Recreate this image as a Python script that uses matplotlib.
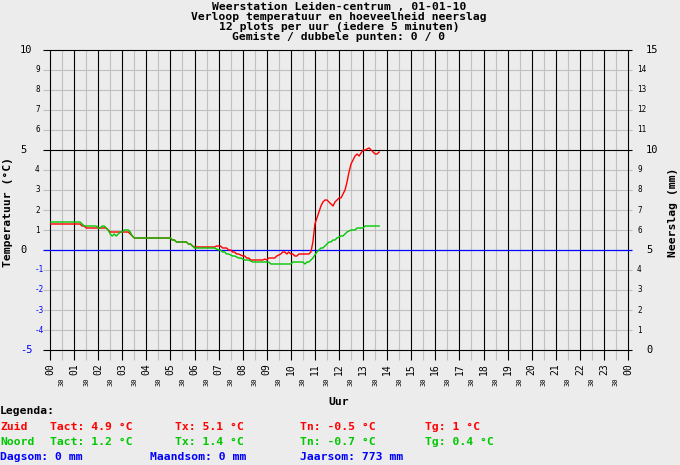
import numpy as np
import matplotlib
matplotlib.use("Agg")
import matplotlib.pyplot as plt
from matplotlib import transforms

# Temperatuur per 5 minuten (00:00 - 13:40)
zuid = [1.3, 1.3, 1.3, 1.3, 1.3, 1.3, 1.3, 1.3, 1.3, 1.3, 1.3, 1.3,
        1.3, 1.3, 1.3, 1.3, 1.2, 1.2, 1.1, 1.1, 1.1, 1.1, 1.1, 1.1,
        1.1, 1.1, 1.1, 1.1, 1.1, 1.0, 0.9, 0.9, 0.9, 0.9, 0.9, 0.9,
        0.9, 0.9, 0.9, 0.9, 0.8, 0.7, 0.6, 0.6, 0.6, 0.6, 0.6, 0.6,
        0.6, 0.6, 0.6, 0.6, 0.6, 0.6, 0.6, 0.6, 0.6, 0.6, 0.6, 0.6,
        0.6, 0.5, 0.5, 0.4, 0.4, 0.4, 0.4, 0.4, 0.4, 0.3, 0.3, 0.2,
        0.15, 0.15, 0.15, 0.15, 0.15, 0.15, 0.15, 0.15, 0.15, 0.15, 0.15, 0.2,
        0.2, 0.2, 0.1, 0.1, 0.1, 0.0, 0.0, -0.1, -0.1, -0.2, -0.2, -0.25,
        -0.3, -0.3, -0.4, -0.4, -0.5, -0.5, -0.5, -0.5, -0.5, -0.5, -0.5, -0.45,
        -0.5, -0.4, -0.4, -0.4, -0.4, -0.3, -0.25, -0.2, -0.1, -0.1, -0.2, -0.1,
        -0.2, -0.2, -0.3, -0.3, -0.2, -0.2, -0.2, -0.2, -0.2, -0.2, -0.1, 0.4,
        1.3, 1.6, 1.9, 2.2, 2.4, 2.5, 2.5, 2.4, 2.3, 2.2, 2.4, 2.5,
        2.6, 2.6, 2.8, 3.0, 3.4, 3.9, 4.3, 4.5, 4.7, 4.8, 4.7, 4.85,
        5.0, 5.0, 5.05, 5.1, 5.0, 4.9, 4.8, 4.8, 4.9]

noord = [1.4, 1.4, 1.4, 1.4, 1.4, 1.4, 1.4, 1.4, 1.4, 1.4, 1.4, 1.4,
         1.4, 1.4, 1.4, 1.4, 1.3, 1.2, 1.2, 1.2, 1.2, 1.2, 1.2, 1.2,
         1.1, 1.1, 1.2, 1.2, 1.1, 1.0, 0.8, 0.7, 0.8, 0.7, 0.8, 0.9,
         0.9, 1.0, 1.0, 1.0, 0.9, 0.7, 0.6, 0.6, 0.6, 0.6, 0.6, 0.6,
         0.6, 0.6, 0.6, 0.6, 0.6, 0.6, 0.6, 0.6, 0.6, 0.6, 0.6, 0.6,
         0.6, 0.5, 0.5, 0.4, 0.4, 0.4, 0.4, 0.4, 0.4, 0.3, 0.3, 0.2,
         0.1, 0.1, 0.1, 0.1, 0.1, 0.1, 0.1, 0.1, 0.1, 0.1, 0.1, 0.05,
         0.0, 0.0, -0.1, -0.1, -0.2, -0.2, -0.25, -0.3, -0.3, -0.35, -0.4, -0.4,
         -0.45, -0.5, -0.5, -0.5, -0.55, -0.6, -0.6, -0.6, -0.6, -0.6, -0.6, -0.6,
         -0.6, -0.6, -0.7, -0.7, -0.7, -0.7, -0.7, -0.7, -0.7, -0.7, -0.7, -0.7,
         -0.7, -0.6, -0.6, -0.6, -0.6, -0.6, -0.6, -0.7, -0.6, -0.6, -0.5, -0.4,
         -0.25, -0.1, 0.0, 0.1, 0.1, 0.2, 0.3, 0.4, 0.4, 0.5, 0.5, 0.6,
         0.65, 0.7, 0.7, 0.8, 0.9, 0.95, 1.0, 1.0, 1.0, 1.1, 1.1, 1.1,
         1.1, 1.2, 1.2, 1.2, 1.2, 1.2, 1.2, 1.2, 1.2]

# meetpunten iedere 5 minuten, in uren
tijd = np.arange(len(zuid)) * 5 / 60

temp_ticks = list(range(-5, 11))
neerslag_ticks = list(range(0, 16))
uur_labels = ["%02d" % (h % 24) for h in range(25)]

titel = ["Weerstation Leiden-centrum , 01-01-10",
         "Verloop temperatuur en hoeveelheid neerslag",
         "12 plots per uur (iedere 5 minuten)",
         "Gemiste / dubbele punten: 0 / 0"]

zuid_legenda = ["Zuid", "Tact: 4.9 °C", "Tx: 5.1 °C", "Tn: -0.5 °C", "Tg: 1 °C"]
noord_legenda = ["Noord", "Tact: 1.2 °C", "Tx: 1.4 °C", "Tn: -0.7 °C", "Tg: 0.4 °C"]
neerslag_legenda = ["Dagsom: 0 mm", "Maandsom: 0 mm", "Jaarsom: 773 mm"]

RED = "#ff0000"
GREEN = "#00c800"
BLUE = "#0000ff"
GRIJS = "#c0c0c0"
ACHTERGROND = "#ececec"
MONO = "DejaVu Sans Mono"

W, H = 680, 465
fig = plt.figure(figsize=(W / 100, H / 100), dpi=100, facecolor=ACHTERGROND)
ax = fig.add_axes([50 / W, 1 - 350 / H, 578 / W, 300 / H])
ax.set_facecolor(ACHTERGROND)
ax.set_xlim(0, 24)
ax.set_ylim(-5, 10)
for s in ax.spines.values():
    s.set_visible(False)
ax.set_xticks([])
ax.set_yticks([])

px = lambda x: x / W
py = lambda y: 1 - y / H
xlinks = (43 - 50) / 578 * 24
xrechts = (632 - 50) / 578 * 24

# horizontale rasterlijnen
for t in temp_ticks:
    if t == 0:
        continue
    kleur = "black" if t % 5 == 0 else GRIJS
    ax.hlines(t, xlinks, xrechts, color=kleur, lw=0.8, clip_on=False, zorder=2 if t % 5 == 0 else 1)

# verticale rasterlijnen
for i in range(49):
    kleur = "black" if i % 2 == 0 else GRIJS
    ax.vlines(i / 2, -5.5, 10, color=kleur, lw=0.8, clip_on=False, zorder=2 if i % 2 == 0 else 1)

ax.hlines(0, xlinks, xrechts, color=BLUE, lw=0.9, clip_on=False, zorder=3)

ax.plot(tijd, zuid, color=RED, lw=1.0, zorder=4)
ax.plot(tijd, noord, color=GREEN, lw=1.0, zorder=5)

# y-as labels links (temperatuur) en rechts (neerslag)
tr_y = transforms.blended_transform_factory(fig.transFigure, ax.transData)
for t in temp_ticks:
    kleur = BLUE if t < 0 else "black"
    if t % 5 == 0:
        ax.text(px(20), t, str(t), transform=tr_y, ha="left", va="center",
                fontsize=7.5, family=MONO, color=kleur)
    else:
        ax.text(px(35), t, str(t), transform=tr_y, ha="left", va="center",
                fontsize=5.5, family=MONO, color=kleur)
for t, n in zip(temp_ticks, neerslag_ticks):
    if n % 5 == 0:
        ax.text(px(646), t, str(n), transform=tr_y, ha="left", va="center",
                fontsize=7.5, family=MONO, color="black")
    else:
        ax.text(px(637), t, str(n), transform=tr_y, ha="left", va="center",
                fontsize=5.5, family=MONO, color="black")

# x-as labels
tr_x = transforms.blended_transform_factory(ax.transData, fig.transFigure)
for h, lab in enumerate(uur_labels):
    ax.text(h, py(363), lab, transform=tr_x, rotation=90, ha="center", va="top",
            fontsize=7, family=MONO)
    if h < 24:
        ax.text(h + 0.5, py(377), "30", transform=tr_x, rotation=90, ha="center",
                va="top", fontsize=5, family=MONO)

fig.text(px(339), py(402), "Uur", ha="center", va="center", fontsize=8.2,
         family=MONO, weight="bold")
fig.text(px(8), py(212), "Temperatuur (°C)", rotation=90, ha="center", va="center",
         fontsize=8.2, family=MONO, weight="bold")
fig.text(px(673), py(212), "Neerslag (mm)", rotation=90, ha="center", va="center",
         fontsize=8.2, family=MONO, weight="bold")

for i, regel in enumerate(titel):
    fig.text(px(339), py(7 + 10 * i), regel, ha="center", va="center", fontsize=8.2,
             family=MONO, weight="bold")

# legenda
fig.text(px(0), py(411), "Legenda:", ha="left", va="center", fontsize=8.2,
         family=MONO, weight="bold")
for xpos, tekst in zip([0, 50, 175, 300, 425], zuid_legenda):
    fig.text(px(xpos), py(427), tekst, ha="left", va="center", fontsize=8.2,
             family=MONO, weight="bold", color=RED)
for xpos, tekst in zip([0, 50, 175, 300, 425], noord_legenda):
    fig.text(px(xpos), py(441.5), tekst, ha="left", va="center", fontsize=8.2,
             family=MONO, weight="bold", color=GREEN)
for xpos, tekst in zip([0, 150, 300], neerslag_legenda):
    fig.text(px(xpos), py(457), tekst, ha="left", va="center", fontsize=8.2,
             family=MONO, weight="bold", color=BLUE)

fig.savefig("out.png", dpi=100, facecolor=ACHTERGROND)
